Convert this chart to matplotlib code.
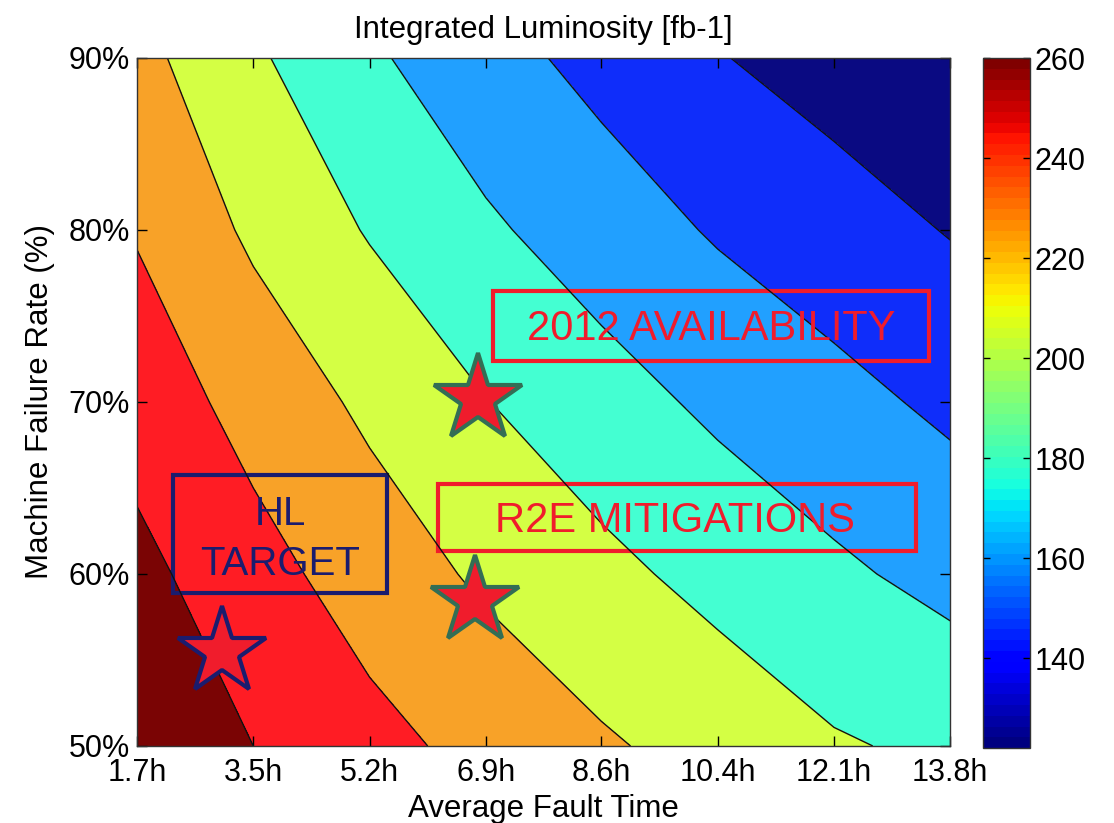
import numpy as np
import matplotlib
matplotlib.use('Agg')
import matplotlib.pyplot as plt
from matplotlib.colors import Normalize
from matplotlib.cm import ScalarMappable
from matplotlib.patches import Rectangle

plt.rcParams['font.family'] = ['Liberation Sans', 'DejaVu Sans']

# grid
fault_time = [1.7, 3.43, 5.16, 6.89, 8.61, 10.34, 12.07, 13.8]
fault_labels = ['1.7h', '3.5h', '5.2h', '6.9h', '8.6h', '10.4h', '12.1h', '13.8h']
failure_rate = [50, 60, 70, 80, 90]
rate_labels = ['50%', '60%', '70%', '80%', '90%']

# integrated luminosity [fb-1], one row per failure rate
lumi_50 = [265, 250, 236, 224, 212.5, 202.5, 192, 186]
lumi_60 = [255.5, 237, 221, 206.5, 195, 184, 173.5, 164]
lumi_70 = [241.5, 223, 206, 190.5, 178, 166, 156, 146]
lumi_80 = [228.5, 206.5, 188.5, 173, 160, 148, 138.5, 129]
lumi_90 = [216, 193, 173, 157, 144, 131, 122, 115]

levels = [110, 130, 150, 170, 190, 210, 230, 250, 270]
line_levels = [130, 150, 170, 190, 210, 230, 250]
cbar_ticks = [140, 160, 180, 200, 220, 240, 260]
clim = (122, 260)

# annotations (fault time, failure rate)
star_red = [(6.77, 70.2), (6.73, 58.45)]
star_hl = (2.96, 55.45)

# band colours, lowest band first
band_colors = ['#0a0a82', '#0f2dfa', '#21a0ff', '#44ffd2',
               '#d4ff44', '#f8a228', '#ff1c24', '#7a0404']

fig = plt.figure(figsize=(11.14, 8.23), dpi=100)
ax = fig.add_axes([0.123, 0.0936, 0.730, 0.836])
cax = fig.add_axes([0.8824, 0.091, 0.0422, 0.8385])

X, Y = np.meshgrid(fault_time, failure_rate)
Z = np.array([lumi_50, lumi_60, lumi_70, lumi_80, lumi_90])

ax.contourf(X, Y, Z, levels=levels, colors=band_colors)
ax.contour(X, Y, Z, levels=line_levels, colors='#111111', linewidths=1.0)

ax.set_xlim(1.7, 13.8)
ax.set_ylim(50, 90)
ax.set_xticks(fault_time)
ax.set_xticklabels(fault_labels)
ax.set_yticks(failure_rate)
ax.set_yticklabels(rate_labels)
ax.tick_params(direction='in', top=True, right=True, length=7, width=1,
               labelsize=22)
ax.tick_params(axis='x', pad=9)
ax.tick_params(axis='y', pad=5)
for s in ax.spines.values():
    s.set_linewidth(1)
    s.set_color('#333333')

ax.set_title('Integrated Luminosity [fb-1]', fontsize=22.5, pad=14)
ax.set_xlabel('Average Fault Time', fontsize=22.5, labelpad=4)
ax.set_ylabel('Machine Failure Rate (%)', fontsize=22.5, labelpad=10)

# boxes and labels
red = '#f01c2c'
navy = '#1b1c6e'
ax.add_patch(Rectangle((7.0, 72.4), 13.49 - 7.0, 76.45 - 72.4, fill=False,
                       edgecolor=red, linewidth=3))
ax.text(10.24, 73.6, '2012 AVAILABILITY', color=red, fontsize=30,
        ha='center', va='baseline')
ax.add_patch(Rectangle((6.18, 61.35), 13.29 - 6.18, 65.23 - 61.35, fill=False,
                       edgecolor=red, linewidth=3))
ax.text(9.71, 62.45, 'R2E MITIGATIONS', color=red, fontsize=30,
        ha='center', va='baseline')
ax.add_patch(Rectangle((2.24, 58.9), 5.42 - 2.24, 65.76 - 58.9, fill=False,
                       edgecolor=navy, linewidth=3))
ax.text(3.83, 62.85, 'HL', color=navy, fontsize=29, ha='center', va='baseline')
ax.text(3.83, 59.95, 'TARGET', color=navy, fontsize=29, ha='center', va='baseline')

for hx, py in star_red:
    ax.plot(hx, py, marker='*', markersize=66, markerfacecolor=red,
            markeredgecolor='#336e55', markeredgewidth=3, linestyle='none')
ax.plot(star_hl[0], star_hl[1], marker='*', markersize=66, markerfacecolor=red,
        markeredgecolor=navy, markeredgewidth=3, linestyle='none')

# colorbar
cmap = plt.get_cmap('jet', 64)
norm = Normalize(vmin=clim[0], vmax=clim[1])
cb = fig.colorbar(ScalarMappable(norm=norm, cmap=cmap), cax=cax, ticks=cbar_ticks)
cax.tick_params(direction='in', left=True, right=True, length=5, width=1,
                labelsize=22, pad=3)
cb.outline.set_linewidth(1)
cb.outline.set_edgecolor('#333333')

fig.savefig('out.png', dpi=100)
